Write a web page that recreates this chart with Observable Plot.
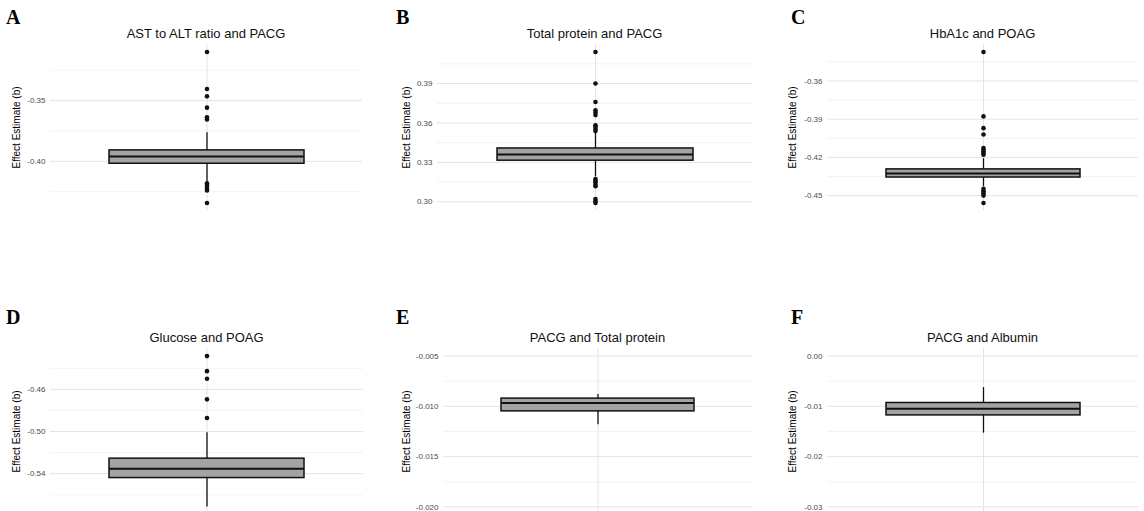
<!DOCTYPE html>
<html>
<head>
<meta charset="utf-8">
<script src="https://cdn.jsdelivr.net/npm/d3@7"></script>
<script src="https://cdn.jsdelivr.net/npm/@observablehq/plot@0.6"></script>
<style>
  html, body { margin: 0; padding: 0; background: #fff; }
  body { position: relative; width: 1144px; height: 511px; overflow: hidden; font-family: "Liberation Sans", Arial, sans-serif; }
  .letter { position: absolute; font-family: "Liberation Serif", "Times New Roman", serif; font-weight: bold; font-size: 20px; line-height: 20px; color: #000; }
  .title { position: absolute; font-size: 13px; line-height: 13px; text-align: center; color: #111; white-space: nowrap; }
  .panel { position: absolute; }
</style>
</head>
<body>
<script>
// ---------- data ----------
const panelLetters = ["A", "B", "C", "D", "E", "F"];
const panelTitles = [
  "AST to ALT ratio and PACG",
  "Total protein and PACG",
  "HbA1c and POAG",
  "Glucose and POAG",
  "PACG and Total protein",
  "PACG and Albumin"
];
const yAxisTitle = "Effect Estimate (b)";

// box statistics per panel
const q1Values      = [-0.402, 0.3313, -0.4358, -0.5442, -0.0105, -0.0118];
const medianValues  = [-0.396, 0.3361, -0.4326, -0.5353, -0.00967, -0.01047];
const q3Values      = [-0.391, 0.3406, -0.4294, -0.5258, -0.00923, -0.00933];
const whiskerLow    = [-0.417, 0.3190, -0.4430, -0.5716, -0.01183, -0.01533];
const whiskerHigh   = [-0.3765, 0.3520, -0.4210, -0.5011, -0.00883, -0.00627];

// outliers per panel
const outliersA = [-0.310, -0.3404, -0.3465, -0.3558, -0.3637, -0.3656, -0.418, -0.4195, -0.421, -0.4228, -0.424, -0.4343];
const outliersB = [0.414, 0.390, 0.376, 0.3697, 0.368, 0.366, 0.3583, 0.357, 0.3555, 0.3538, 0.3174, 0.316, 0.3148, 0.313, 0.3118, 0.3022, 0.3005, 0.2991];
const outliersC = [-0.3372, -0.3878, -0.397, -0.402, -0.4126, -0.414, -0.4153, -0.4166, -0.4179, -0.4447, -0.4465, -0.4482, -0.450, -0.4558];
const outliersD = [-0.4284, -0.4427, -0.4499, -0.4695, -0.4872];
const outliersE = [];
const outliersF = [];
const outlierLists = [outliersA, outliersB, outliersC, outliersD, outliersE, outliersF];

// y scale domains and ticks
const yDomains = [
  [-0.4405, -0.3038],
  [0.2934, 0.4197],
  [-0.4617, -0.3313],
  [-0.5788, -0.4212],
  [-0.02075, -0.00425],
  [-0.0315, 0.0015]
];
const majorTicks = [
  [-0.40, -0.35],
  [0.30, 0.33, 0.36, 0.39],
  [-0.45, -0.42, -0.39, -0.36],
  [-0.54, -0.50, -0.46],
  [-0.020, -0.015, -0.010, -0.005],
  [-0.03, -0.02, -0.01, 0.00]
];
const tickLabels = [
  ["-0.40", "-0.35"],
  ["0.30", "0.33", "0.36", "0.39"],
  ["-0.45", "-0.42", "-0.39", "-0.36"],
  ["-0.54", "-0.50", "-0.46"],
  ["-0.020", "-0.015", "-0.010", "-0.005"],
  ["-0.03", "-0.02", "-0.01", "0.00"]
];
const minorTicks = [
  [-0.425, -0.375, -0.325],
  [0.315, 0.345, 0.375, 0.405],
  [-0.435, -0.405, -0.375, -0.345],
  [-0.56, -0.52, -0.48, -0.44],
  [-0.0175, -0.0125, -0.0075],
  [-0.025, -0.015, -0.005]
];

// ---------- layout (pixels) ----------
const layout = [
  {left: 50,  right: 362,  top: 44,  bottom: 210, axisTitleOff: 34, letterX: 6,   letterY: 6.5},
  {left: 437, right: 752,  top: 44,  bottom: 210, axisTitleOff: 31, letterX: 396, letterY: 6.5},
  {left: 827, right: 1138, top: 44,  bottom: 210, axisTitleOff: 35, letterX: 791, letterY: 6.5},
  {left: 50,  right: 363,  top: 348, bottom: 514, axisTitleOff: 34, letterX: 6,   letterY: 306.5},
  {left: 443, right: 752,  top: 348, bottom: 514, axisTitleOff: 37, letterX: 396, letterY: 306.5},
  {left: 827, right: 1138, top: 348, bottom: 514, axisTitleOff: 35, letterX: 791, letterY: 306.5}
];

const mL = 50, mR = 4, mT = 6, mB = 6;

panelTitles.forEach((title, i) => {
  const L = layout[i];
  const cat = [title];
  const rows = [{c: title, q1: q1Values[i], med: medianValues[i], q3: q3Values[i], lo: whiskerLow[i], hi: whiskerHigh[i]}];
  const pts = outlierLists[i].map(v => ({c: title, v}));

  const svg = Plot.plot({
    width: (L.right - L.left) + mL + mR,
    height: (L.bottom - L.top) + mT + mB,
    marginLeft: mL, marginRight: mR, marginTop: mT, marginBottom: mB,
    style: {fontFamily: "Liberation Sans, Arial, sans-serif", background: "transparent", overflow: "visible"},
    x: {type: "band", domain: cat, paddingInner: 0, paddingOuter: 0.3, axis: null},
    y: {domain: yDomains[i], axis: null},
    marks: [
      Plot.ruleY(minorTicks[i], {stroke: "#f0f0f0", strokeWidth: 0.8}),
      Plot.ruleY(majorTicks[i], {stroke: "#e4e4e4", strokeWidth: 1}),
      Plot.ruleX(cat, {x: d => d, stroke: "#e4e4e4", strokeWidth: 1}),
      Plot.axisY({
        ticks: majorTicks[i],
        tickSize: 0,
        tickPadding: 5,
        tickFormat: d => tickLabels[i][majorTicks[i].indexOf(d)],
        fontSize: 8,
        fill: "#4d4d4d",
        label: null
      }),
      Plot.text([yAxisTitle], {frameAnchor: "left", textAnchor: "middle", rotate: -90, dx: -L.axisTitleOff, fontSize: 10, fill: "#000"}),
      Plot.ruleX(rows, {x: "c", y1: "lo", y2: "q1", stroke: "#111", strokeWidth: 1.3}),
      Plot.ruleX(rows, {x: "c", y1: "q3", y2: "hi", stroke: "#111", strokeWidth: 1.3}),
      Plot.barY(rows, {x: "c", y1: "q1", y2: "q3", fill: "#a3a3a3", stroke: "#111", strokeWidth: 1.5}),
      Plot.tickY(rows, {x: "c", y: "med", stroke: "#111", strokeWidth: 2}),
      Plot.dot(pts, {x: "c", y: "v", r: 2.3, fill: "#111", stroke: "none"})
    ]
  });

  const wrap = document.createElement("div");
  wrap.className = "panel";
  wrap.style.left = (L.left - mL) + "px";
  wrap.style.top = (L.top - mT) + "px";
  wrap.appendChild(svg);
  document.body.appendChild(wrap);

  const letter = document.createElement("div");
  letter.className = "letter";
  letter.textContent = panelLetters[i];
  letter.style.left = L.letterX + "px";
  letter.style.top = L.letterY + "px";
  document.body.appendChild(letter);

  const t = document.createElement("div");
  t.className = "title";
  t.textContent = title;
  t.style.left = L.left + "px";
  t.style.width = (L.right - L.left) + "px";
  t.style.top = (L.top - 17) + "px";
  document.body.appendChild(t);
});
</script>
</body>
</html>
